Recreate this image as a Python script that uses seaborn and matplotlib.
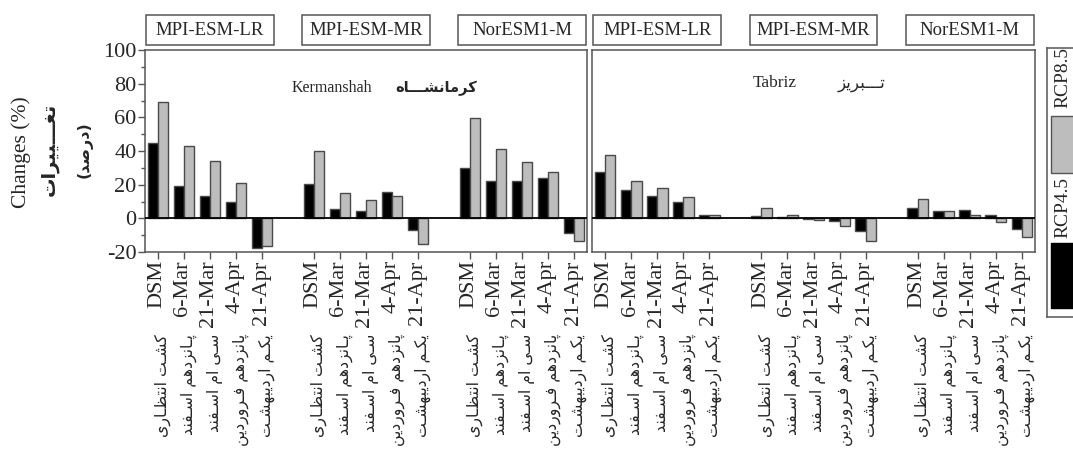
import numpy as np
import pandas as pd
import matplotlib
matplotlib.use("Agg")
import matplotlib.pyplot as plt
import matplotlib.transforms as mtransforms
from matplotlib.patches import Rectangle
from matplotlib.ticker import MultipleLocator
import seaborn as sns

# ---------------- data ----------------
stations_en = ["Kermanshah", "Tabriz"]
stations_fa = ["کرمانشـــاه", "تـــبریز"]
models = ["MPI-ESM-LR", "MPI-ESM-MR", "NorESM1-M"]
dates_en = ["DSM", "6-Mar", "21-Mar", "4-Apr", "21-Apr"]
dates_fa = ["کشـت انتظـاری", "پـانزدهم اسـفند", "سـی ام اسـفند", "پانزدهم فـروردین", "یکـم اردیبهشـت"]
scenarios = ["RCP4.5", "RCP8.5"]
colors = ["#000000", "#bdbdbd"]

# values: [model] -> list over dates
kermanshah_rcp45 = [[45, 19, 13, 10, -17.8], [20.6, 5.5, 4.6, 15.8, -6.9], [29.7, 22.2, 22.2, 23.8, -8.5]]
kermanshah_rcp85 = [[69, 43, 34, 21, -16.4], [40.2, 15.2, 10.9, 13.3, -15.2], [59.8, 41, 33.3, 27.3, -13.3]]
tabriz_rcp45 = [[27.7, 17, 13.3, 9.5, 2.0], [1.6, 0.6, -0.3, -1.6, -7.5], [6.3, 4.2, 4.8, 2.2, -6.1]]
tabriz_rcp85 = [[37.4, 22, 17.8, 12.9, 2.2], [6.3, 2.2, -1.2, -4.8, -13.5], [11.3, 4.4, 2.2, -2.2, -11.3]]

ylabel_en = "Changes (%)"
ylabel_fa1 = "تغـــییرات"
ylabel_fa2 = "(درصد)"

# ---------------- simple Persian shaping (presentation forms) ----------------
FORMS = {  # isolated, final, initial, medial
    "\u0627": ("\uFE8D", "\uFE8E", None, None),
    "\u0628": ("\uFE8F", "\uFE90", "\uFE91", "\uFE92"),
    "\u062A": ("\uFE95", "\uFE96", "\uFE97", "\uFE98"),
    "\u062F": ("\uFEA9", "\uFEAA", None, None),
    "\u0631": ("\uFEAD", "\uFEAE", None, None),
    "\u0632": ("\uFEAF", "\uFEB0", None, None),
    "\u0633": ("\uFEB1", "\uFEB2", "\uFEB3", "\uFEB4"),
    "\u0634": ("\uFEB5", "\uFEB6", "\uFEB7", "\uFEB8"),
    "\u0635": ("\uFEB9", "\uFEBA", "\uFEBB", "\uFEBC"),
    "\u0638": ("\uFEC5", "\uFEC6", "\uFEC7", "\uFEC8"),
    "\u063A": ("\uFECD", "\uFECE", "\uFECF", "\uFED0"),
    "\u0641": ("\uFED1", "\uFED2", "\uFED3", "\uFED4"),
    "\u0645": ("\uFEE1", "\uFEE2", "\uFEE3", "\uFEE4"),
    "\u0646": ("\uFEE5", "\uFEE6", "\uFEE7", "\uFEE8"),
    "\u0647": ("\uFEE9", "\uFEEA", "\uFEEB", "\uFEEC"),
    "\u0648": ("\uFEED", "\uFEEE", None, None),
    "\u067E": ("\uFB56", "\uFB57", "\uFB58", "\uFB59"),
    "\u06A9": ("\uFB8E", "\uFB8F", "\uFB90", "\uFB91"),
    "\u06CC": ("\uFBFC", "\uFBFD", "\uFBFE", "\uFBFF"),
}
TATWEEL = "\u0640"


def _dual(c):
    return c == TATWEEL or (c in FORMS and FORMS[c][2] is not None)


def _joins(c):
    return c == TATWEEL or c in FORMS


def shape(s):
    out = []
    for i, c in enumerate(s):
        if c not in FORMS:
            out.append(c)
            continue
        prev_c = s[i - 1] if i > 0 else ""
        next_c = s[i + 1] if i + 1 < len(s) else ""
        jp = prev_c != "" and _dual(prev_c)
        jn = _dual(c) and next_c != "" and _joins(next_c)
        iso, fin, ini, med = FORMS[c]
        if jp and jn:
            out.append(med)
        elif jp:
            out.append(fin)
        elif jn:
            out.append(ini)
        else:
            out.append(iso)
    vis = "".join(out)[::-1]
    return vis.translate(str.maketrans("()", ")("))


# ---------------- build data frame ----------------
rows = []
all_vals = {"Kermanshah": (kermanshah_rcp45, kermanshah_rcp85), "Tabriz": (tabriz_rcp45, tabriz_rcp85)}
for st in stations_en:
    for sc_i, sc in enumerate(scenarios):
        arr = all_vals[st][sc_i]
        for m_i, m in enumerate(models):
            for d_i, d in enumerate(dates_en):
                rows.append(dict(station=st, slot=f"{m}|{d}", scenario=sc, value=arr[m_i][d_i]))
df = pd.DataFrame(rows)

order = []
for m_i, m in enumerate(models):
    order += [f"{m}|{d}" for d in dates_en]
    if m_i < len(models) - 1:
        order.append(f"gap{m_i}")

# ---------------- figure ----------------
sns.set_style("ticks")
plt.rcParams["font.family"] = ["Liberation Serif", "DejaVu Sans"]
plt.rcParams["axes.unicode_minus"] = False

W, H = 1073, 457
fig = plt.figure(figsize=(W / 100, H / 100), dpi=100)


def fx(px):
    return px / W


def fy(py):
    return 1 - py / H


ax_top, ax_bot = 50, 252
panels = [(145, 587), (592, 1035)]
axes = []
for (x0, x1) in panels:
    axes.append(fig.add_axes([fx(x0), fy(ax_bot), fx(x1 - x0), (ax_bot - ax_top) / H]))

fa_family = ["DejaVu Sans"]
for p_i, (ax, st) in enumerate(zip(axes, stations_en)):
    sub = df[df.station == st]
    sns.barplot(data=sub, x="slot", y="value", hue="scenario", order=order,
                hue_order=scenarios, palette=colors, edgecolor="#4a4a4a",
                linewidth=1.0, width=0.8, ax=ax, legend=False)
    ax.set_xlim(-0.5, len(order) - 0.5)
    ax.set_ylim(-20, 100)
    ax.axhline(0, color="black", lw=1.3, zorder=5)
    for sp in ax.spines.values():
        sp.set_visible(True)
        sp.set_color("#555555")
        sp.set_linewidth(1.1)
    ax.set_xlabel("")
    ax.set_ylabel("")

    pos = [order.index(f"{m}|{d}") for m in models for d in dates_en]
    ax.set_xticks(pos)
    ax.set_xticklabels(dates_en * len(models), rotation=90, fontsize=16, va="top", ha="center")
    ax.tick_params(axis="x", direction="out", length=5, width=1, color="#555555", pad=1)
    off = mtransforms.ScaledTranslation(-1 / 100, 0, fig.dpi_scale_trans)
    for lab in ax.get_xticklabels():
        lab.set_transform(lab.get_transform() + off)
    for k, p in enumerate(pos):
        ax.annotate(shape(dates_fa[k % len(dates_fa)]), xy=(p, 0), xycoords=ax.get_xaxis_transform(),
                    xytext=(5, -82), textcoords="offset pixels", rotation=90,
                    ha="center", va="top", fontsize=11.3, family=fa_family, annotation_clip=False)

    if p_i == 0:
        ax.yaxis.set_major_locator(MultipleLocator(20))
        ax.yaxis.set_minor_locator(MultipleLocator(10))
        ax.tick_params(axis="y", which="major", direction="out", length=5, width=1,
                       color="#555555", labelsize=16, pad=1)
        ax.tick_params(axis="y", which="minor", direction="out", length=3, width=1, color="#555555")
    else:
        ax.set_yticks([])

    # model boxes above each group
    for m_i, m in enumerate(models):
        c = order.index(f"{m}|{dates_en[2]}")
        tr = ax.get_xaxis_transform()
        ax.add_patch(Rectangle((c - 2.45, 1.025), 4.9, 0.148, transform=tr, clip_on=False,
                               facecolor="white", edgecolor="#555555", lw=1.1))
        ax.text(c, 1.099, m, transform=tr, ha="center", va="center", fontsize=13.5)

# station names
fig.text(fx(292), fy(88), stations_en[0], ha="left", va="center", fontsize=11.5)
fig.text(fx(395), fy(88), shape(stations_fa[0]), ha="left", va="center", fontsize=10.5,
         family=fa_family, weight="bold")
fig.text(fx(753), fy(83), stations_en[1], ha="left", va="center", fontsize=12.5)
fig.text(fx(838), fy(83), shape(stations_fa[1]), ha="left", va="center", fontsize=12,
         family=fa_family)

# y labels
fig.text(fx(21), fy(152), ylabel_en, rotation=90, ha="center", va="center", fontsize=15.5)
fig.text(fx(49), fy(149), shape(ylabel_fa1), rotation=90, ha="center", va="center", fontsize=14,
         family=fa_family, weight="bold")
fig.text(fx(85), fy(150), shape(ylabel_fa2), rotation=90, ha="center", va="center", fontsize=11.5,
         family=fa_family, weight="bold")

# legend (vertical, at right edge)
lx0, lx1, ly0, ly1 = 1047, 1085, 48, 317
lax = fig.add_axes([fx(lx0), fy(ly1), fx(lx1 - lx0), (ly1 - ly0) / H])
lax.set_xlim(lx0, lx1)
lax.set_ylim(ly1, ly0)
lax.set_xticks([])
lax.set_yticks([])
for sp in lax.spines.values():
    sp.set_color("#555555")
    sp.set_linewidth(1.1)
lax.add_patch(Rectangle((1051, 116), 40, 57, facecolor=colors[1], edgecolor="#555555", lw=1))
lax.add_patch(Rectangle((1051, 243), 40, 65, facecolor=colors[0], edgecolor="black", lw=1))
lax.text(1063, 77, scenarios[1], rotation=90, ha="center", va="center", fontsize=14)
lax.text(1063, 208, scenarios[0], rotation=90, ha="center", va="center", fontsize=14)

fig.savefig("out.png", dpi=100)
